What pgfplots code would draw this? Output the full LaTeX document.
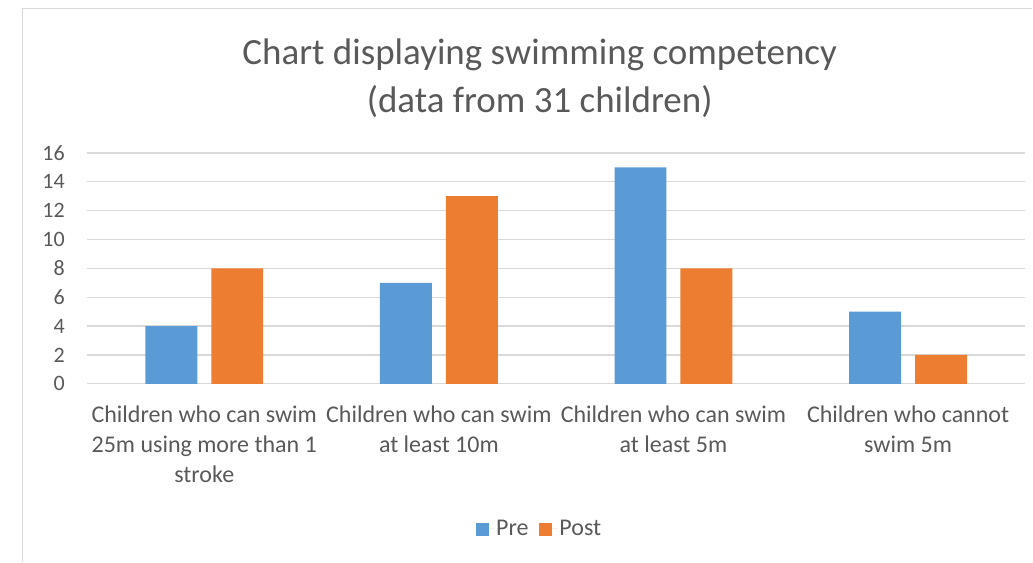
\documentclass[border=0pt]{standalone}
\usepackage{fontspec}
\setmainfont{Carlito}
\usepackage{pgfplots}
\pgfplotsset{compat=1.18}
\definecolor{preblue}{HTML}{5B9BD5}
\definecolor{postorange}{HTML}{ED7D31}
\definecolor{gridgray}{HTML}{D9D9D9}
\definecolor{textgray}{HTML}{595959}
\begin{document}
\begin{tikzpicture}[x=1pt,y=1pt]
\path (0,0) rectangle (1033,562);
\draw[gridgray, line width=1.2pt] (22.5,0) -- (22.5,553.5) -- (1033,553.5);
\node[align=center, text=textgray, font=\fontsize{37}{48}\selectfont] at (540,484) {Chart displaying swimming competency\\(data from 31 children)};
\begin{axis}[
  at={(87pt,178pt)}, anchor=south west,
  scale only axis, width=939pt, height=231pt,
  ymin=0, ymax=16, xmin=-0.5, xmax=3.5,
  ytick={0,2,...,16}, xtick={0,1,2,3},
  xticklabels={{Children who can swim\\25m using more than 1\\stroke},{Children who can swim\\at least 10m},{Children who can swim\\at least 5m},{Children who cannot\\swim 5m}},
  axis line style={draw=none},
  major tick length=0pt,
  ymajorgrids, major grid style={gridgray, line width=1.2pt},
  /pgf/number format/assume math mode=true,
  yticklabel style={anchor=east, inner sep=0pt, xshift=-22pt, text=textgray, font=\fontsize{22}{26}\selectfont},
  xticklabel style={anchor=north, align=center, inner sep=0pt, yshift=-22pt, text=textgray, font=\fontsize{24}{30}\selectfont},
  ybar, bar width=52pt,
  legend columns=2,
  legend style={at={(0.4824,-0.628)}, anchor=center, draw=none, fill=none, text=textgray, font=\fontsize{24}{28}\selectfont, /tikz/every even column/.append style={column sep=9pt}},
  legend image code/.code={\path (0pt,0pt) -- (18pt,0pt);\fill[#1] (0pt,-7pt) rectangle (13pt,6pt);},
]
\addplot[fill=preblue, draw=none, bar shift=-33pt] coordinates {(0,4) (1,7) (2,15) (3,5)};
\addplot[fill=postorange, draw=none, bar shift=33pt] coordinates {(0,8) (1,13) (2,8) (3,2)};
\legend{Pre,Post}
\end{axis}
\end{tikzpicture}
\end{document}
